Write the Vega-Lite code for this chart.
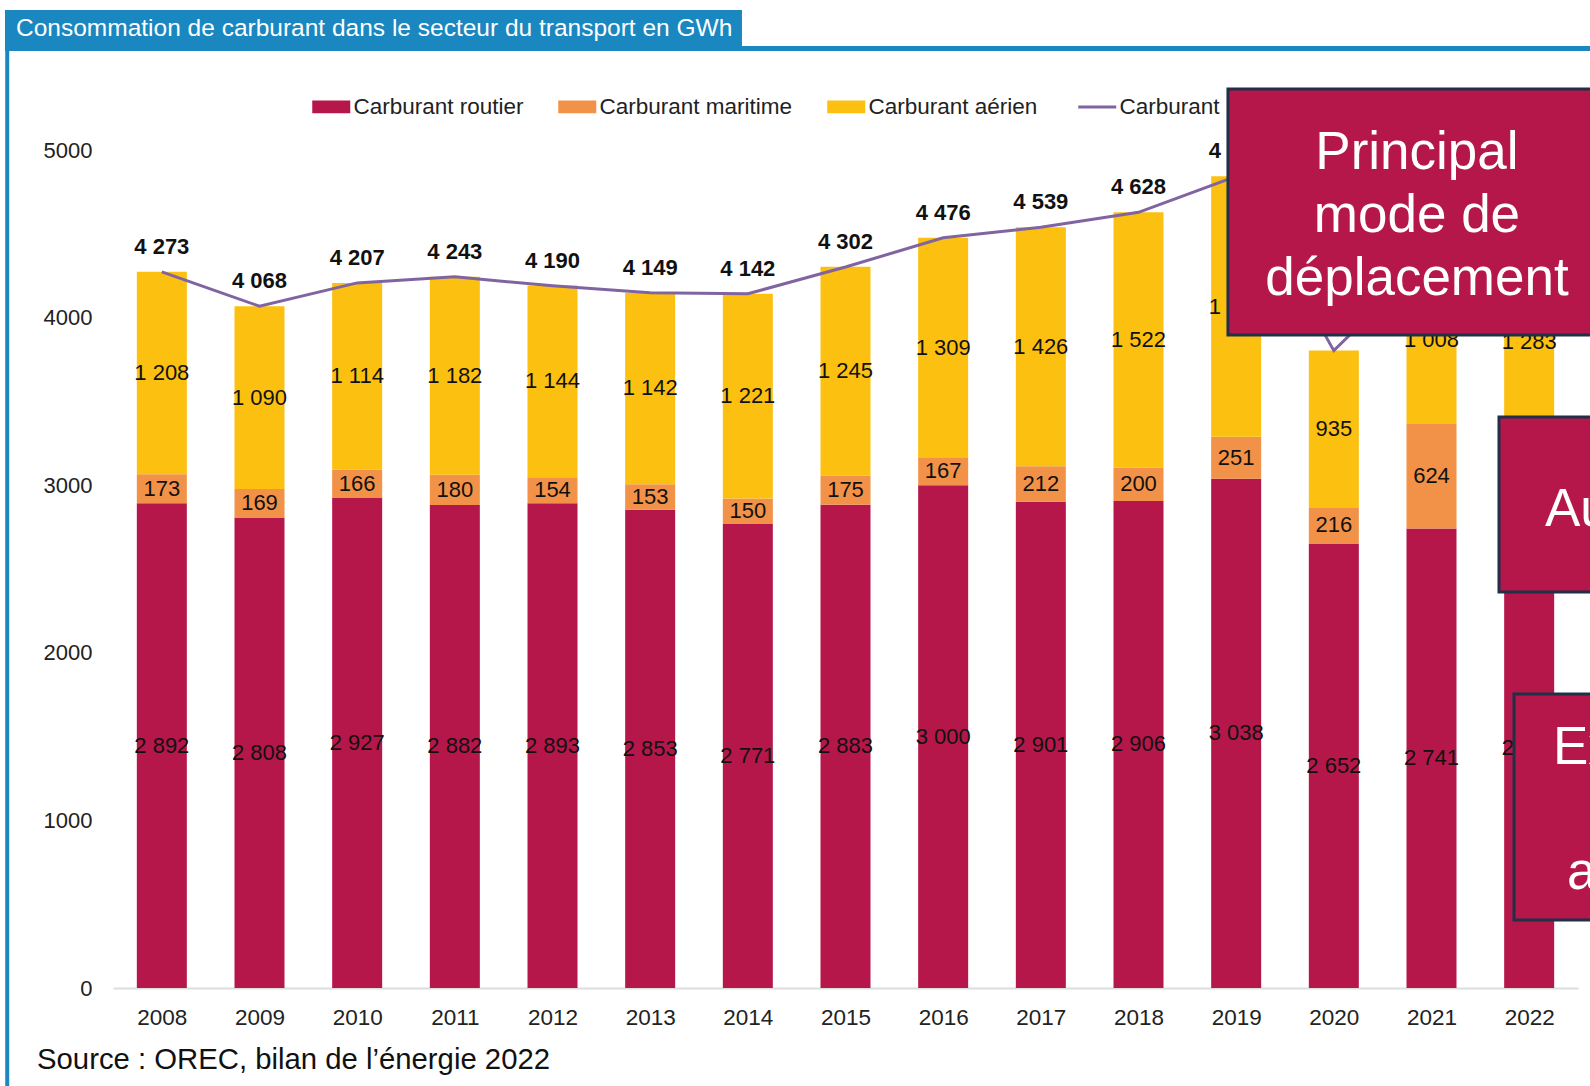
{
  "$schema": "https://vega.github.io/schema/vega-lite/v6.json",
  "width": 1465,
  "height": 838,
  "autosize": {"type": "none"},
  "padding": {"left": 113, "top": 150, "right": 12, "bottom": 98},
  "background": "white",
  "config": {
    "font": "Liberation Sans",
    "view": {"stroke": null},
    "locale": {"number": {"decimal": ",", "thousands": " ", "grouping": [3], "currency": ["", " €"]}}
  },
  "datasets": {
    "seg": [
      {"year": 2008, "type": "Carburant routier", "value": 2892},
      {"year": 2008, "type": "Carburant maritime", "value": 173},
      {"year": 2008, "type": "Carburant aérien", "value": 1208},
      {"year": 2009, "type": "Carburant routier", "value": 2808},
      {"year": 2009, "type": "Carburant maritime", "value": 169},
      {"year": 2009, "type": "Carburant aérien", "value": 1090},
      {"year": 2010, "type": "Carburant routier", "value": 2927},
      {"year": 2010, "type": "Carburant maritime", "value": 166},
      {"year": 2010, "type": "Carburant aérien", "value": 1114},
      {"year": 2011, "type": "Carburant routier", "value": 2882},
      {"year": 2011, "type": "Carburant maritime", "value": 180},
      {"year": 2011, "type": "Carburant aérien", "value": 1182},
      {"year": 2012, "type": "Carburant routier", "value": 2893},
      {"year": 2012, "type": "Carburant maritime", "value": 154},
      {"year": 2012, "type": "Carburant aérien", "value": 1144},
      {"year": 2013, "type": "Carburant routier", "value": 2853},
      {"year": 2013, "type": "Carburant maritime", "value": 153},
      {"year": 2013, "type": "Carburant aérien", "value": 1142},
      {"year": 2014, "type": "Carburant routier", "value": 2771},
      {"year": 2014, "type": "Carburant maritime", "value": 150},
      {"year": 2014, "type": "Carburant aérien", "value": 1221},
      {"year": 2015, "type": "Carburant routier", "value": 2883},
      {"year": 2015, "type": "Carburant maritime", "value": 175},
      {"year": 2015, "type": "Carburant aérien", "value": 1245},
      {"year": 2016, "type": "Carburant routier", "value": 3000},
      {"year": 2016, "type": "Carburant maritime", "value": 167},
      {"year": 2016, "type": "Carburant aérien", "value": 1309},
      {"year": 2017, "type": "Carburant routier", "value": 2901},
      {"year": 2017, "type": "Carburant maritime", "value": 212},
      {"year": 2017, "type": "Carburant aérien", "value": 1426},
      {"year": 2018, "type": "Carburant routier", "value": 2906},
      {"year": 2018, "type": "Carburant maritime", "value": 200},
      {"year": 2018, "type": "Carburant aérien", "value": 1522},
      {"year": 2019, "type": "Carburant routier", "value": 3038},
      {"year": 2019, "type": "Carburant maritime", "value": 251},
      {"year": 2019, "type": "Carburant aérien", "value": 1554},
      {"year": 2020, "type": "Carburant routier", "value": 2652},
      {"year": 2020, "type": "Carburant maritime", "value": 216},
      {"year": 2020, "type": "Carburant aérien", "value": 935},
      {"year": 2021, "type": "Carburant routier", "value": 2741},
      {"year": 2021, "type": "Carburant maritime", "value": 624},
      {"year": 2021, "type": "Carburant aérien", "value": 1008},
      {"year": 2022, "type": "Carburant routier", "value": 2866},
      {"year": 2022, "type": "Carburant maritime", "value": 349},
      {"year": 2022, "type": "Carburant aérien", "value": 1283}
    ],
    "tot": [
      {"year": 2008, "total": 4273},
      {"year": 2009, "total": 4068},
      {"year": 2010, "total": 4207},
      {"year": 2011, "total": 4243},
      {"year": 2012, "total": 4190},
      {"year": 2013, "total": 4149},
      {"year": 2014, "total": 4142},
      {"year": 2015, "total": 4302},
      {"year": 2016, "total": 4476},
      {"year": 2017, "total": 4539},
      {"year": 2018, "total": 4628},
      {"year": 2019, "total": 4843},
      {"year": 2020, "total": 3803},
      {"year": 2021, "total": 4373},
      {"year": 2022, "total": 4498}
    ]
  },
  "layer": [
    {
      "data": {"name": "seg"},
      "transform": [
        {"stack": "value", "groupby": ["year"], "sort": [{"field": "type", "order": "descending"}], "as": ["v0", "v1"]}
      ],
      "mark": {"type": "bar", "width": 50},
      "encoding": {
        "x": {
          "field": "year", "type": "quantitative",
          "scale": {"domain": [2007.5, 2022.5], "nice": false, "zero": false, "padding": 0},
          "axis": {"title": null, "values": [2008,2009,2010,2011,2012,2013,2014,2015,2016,2017,2018,2019,2020,2021,2022], "format": "d", "ticks": false, "grid": false, "labelFontSize": 22.5, "labelColor": "#222222", "labelPadding": 18, "labelFlush": false, "labelOverlap": false, "domainColor": "#DDDDDD", "domainWidth": 2}
        },
        "y": {
          "field": "v0", "type": "quantitative",
          "scale": {"domain": [0, 5000], "nice": false},
          "axis": {"title": null, "values": [0,1000,2000,3000,4000,5000], "format": "d", "ticks": false, "grid": false, "domain": false, "labelFontSize": 22, "labelColor": "#222222", "labelPadding": 21}
        },
        "y2": {"field": "v1"},
        "color": {
          "field": "type", "type": "nominal",
          "scale": {"domain": ["Carburant routier", "Carburant maritime", "Carburant aérien", "Carburant total"], "range": ["#B5174B", "#F29148", "#FCC010", "#8064A2"]},
          "legend": {
            "title": null, "orient": "none", "legendX": 207, "legendY": -54.5, "direction": "horizontal",
            "columnPadding": 34, "labelOffset": 11, "symbolSize": 1444, "labelFontSize": 22.5, "labelColor": "#222222",
            "labelLimit": 400, "padding": 0,
            "labelExpr": "datum.label == 'Carburant total' ? 'Carburant' : datum.label",
            "encode": {"symbols": {"update": {
              "shape": {"signal": "datum.value === 'Carburant total' ? 'M-1,0H1' : 'M-1,-0.34H1V0.34H-1Z'"},
              "fill": {"signal": "datum.value === 'Carburant total' ? 'transparent' : scale('color', datum.value)"},
              "stroke": {"signal": "scale('color', datum.value)"},
              "strokeWidth": {"signal": "datum.value === 'Carburant total' ? 3 : 0"},
              "opacity": {"value": 1}
            }}}
          }
        }
      }
    },
    {
      "data": {"name": "seg"},
      "transform": [
        {"stack": "value", "groupby": ["year"], "sort": [{"field": "type", "order": "descending"}], "as": ["v0", "v1"]},
        {"fold": ["v0", "v1"], "as": ["k", "pos"]},
        {"aggregate": [{"op": "mean", "field": "pos", "as": "mid"}], "groupby": ["year", "type", "value"]}
      ],
      "mark": {"type": "text", "fontSize": 22, "color": "#111111", "baseline": "middle", "align": "center"},
      "encoding": {
        "x": {"field": "year", "type": "quantitative"},
        "y": {"field": "mid", "type": "quantitative"},
        "text": {"field": "value", "type": "quantitative", "format": ",d"}
      }
    },
    {
      "data": {"name": "tot"},
      "mark": {"type": "line", "strokeWidth": 3},
      "encoding": {
        "x": {"field": "year", "type": "quantitative"},
        "y": {"field": "total", "type": "quantitative"},
        "color": {"datum": "Carburant total"}
      }
    },
    {
      "data": {"name": "tot"},
      "mark": {"type": "text", "fontSize": 22, "fontWeight": "bold", "color": "#111111", "baseline": "middle", "align": "center", "dy": -25},
      "encoding": {
        "x": {"field": "year", "type": "quantitative"},
        "y": {"field": "total", "type": "quantitative"},
        "text": {"field": "total", "type": "quantitative", "format": ",d"}
      }
    },
    {
      "data": {"values": [{}]},
      "mark": {"type": "rect", "color": "#1A87C0"},
      "encoding": {
        "x": {"datum": 2006.394, "type": "quantitative"},
        "x2": {"datum": 2013.94},
        "y": {"datum": 5835, "type": "quantitative"},
        "y2": {"datum": 5591}
      }
    },
    {
      "data": {"values": [{}]},
      "mark": {"type": "rule", "color": "#1A87C0", "strokeWidth": 5},
      "encoding": {
        "x": {"datum": 2006.394, "type": "quantitative"},
        "x2": {"datum": 2025},
        "y": {"datum": 5606, "type": "quantitative"}
      }
    },
    {
      "data": {"values": [{}]},
      "mark": {"type": "rule", "color": "#1A87C0", "strokeWidth": 4},
      "encoding": {
        "x": {"datum": 2006.417, "type": "quantitative"},
        "y": {"datum": 5606, "type": "quantitative"},
        "y2": {"datum": -700}
      }
    },
    {
      "data": {"values": [{}]},
      "mark": {"type": "text", "text": "Consommation de carburant dans le secteur du transport en GWh", "fontSize": 24.5, "color": "white", "align": "left", "baseline": "middle"},
      "encoding": {
        "x": {"datum": 2006.507, "type": "quantitative"},
        "y": {"datum": 5719, "type": "quantitative"}
      }
    },
    {
      "data": {"values": [{}]},
      "mark": {"type": "text", "text": "Source : OREC, bilan de l’énergie 2022", "fontSize": 29.3, "color": "#111111", "align": "left", "baseline": "middle"},
      "encoding": {
        "x": {"datum": 2006.722, "type": "quantitative"},
        "y": {"datum": -430, "type": "quantitative"}
      }
    },
    {
      "data": {"values": [{}]},
      "mark": {"type": "rect", "fill": "#B5174B", "stroke": "#1F3048", "strokeWidth": 3},
      "encoding": {
        "x": {"datum": 2018.916, "type": "quantitative"},
        "x2": {"datum": 2025},
        "y": {"datum": 5364, "type": "quantitative"},
        "y2": {"datum": 3896}
      }
    },
    {
      "data": {"values": [{}]},
      "mark": {"type": "text", "text": ["Principal", "mode de", "déplacement"], "fontSize": 53, "lineHeight": 63, "color": "white", "align": "center", "baseline": "alphabetic"},
      "encoding": {
        "x": {"datum": 2020.851, "type": "quantitative"},
        "y": {"datum": 4887, "type": "quantitative"}
      }
    },
    {
      "data": {"values": [{}]},
      "mark": {"type": "rect", "fill": "#B5174B", "stroke": "#1F3048", "strokeWidth": 3},
      "encoding": {
        "x": {"datum": 2021.691, "type": "quantitative"},
        "x2": {"datum": 2025},
        "y": {"datum": 3407, "type": "quantitative"},
        "y2": {"datum": 2363}
      }
    },
    {
      "data": {"values": [{}]},
      "mark": {"type": "text", "text": "Au", "fontSize": 53, "color": "white", "align": "left", "baseline": "alphabetic"},
      "encoding": {
        "x": {"datum": 2022.162, "type": "quantitative"},
        "y": {"datum": 2757, "type": "quantitative"}
      }
    },
    {
      "data": {"values": [{}]},
      "mark": {"type": "rect", "fill": "#B5174B", "stroke": "#1F3048", "strokeWidth": 3},
      "encoding": {
        "x": {"datum": 2021.845, "type": "quantitative"},
        "x2": {"datum": 2025},
        "y": {"datum": 1754, "type": "quantitative"},
        "y2": {"datum": 406}
      }
    },
    {
      "data": {"values": [{}]},
      "mark": {"type": "text", "text": "Ex", "fontSize": 53, "color": "white", "align": "left", "baseline": "alphabetic"},
      "encoding": {
        "x": {"datum": 2022.244, "type": "quantitative"},
        "y": {"datum": 1337, "type": "quantitative"}
      }
    },
    {
      "data": {"values": [{}]},
      "mark": {"type": "text", "text": "a", "fontSize": 53, "color": "white", "align": "left", "baseline": "alphabetic"},
      "encoding": {
        "x": {"datum": 2022.387, "type": "quantitative"},
        "y": {"datum": 591, "type": "quantitative"}
      }
    }
  ]
}
